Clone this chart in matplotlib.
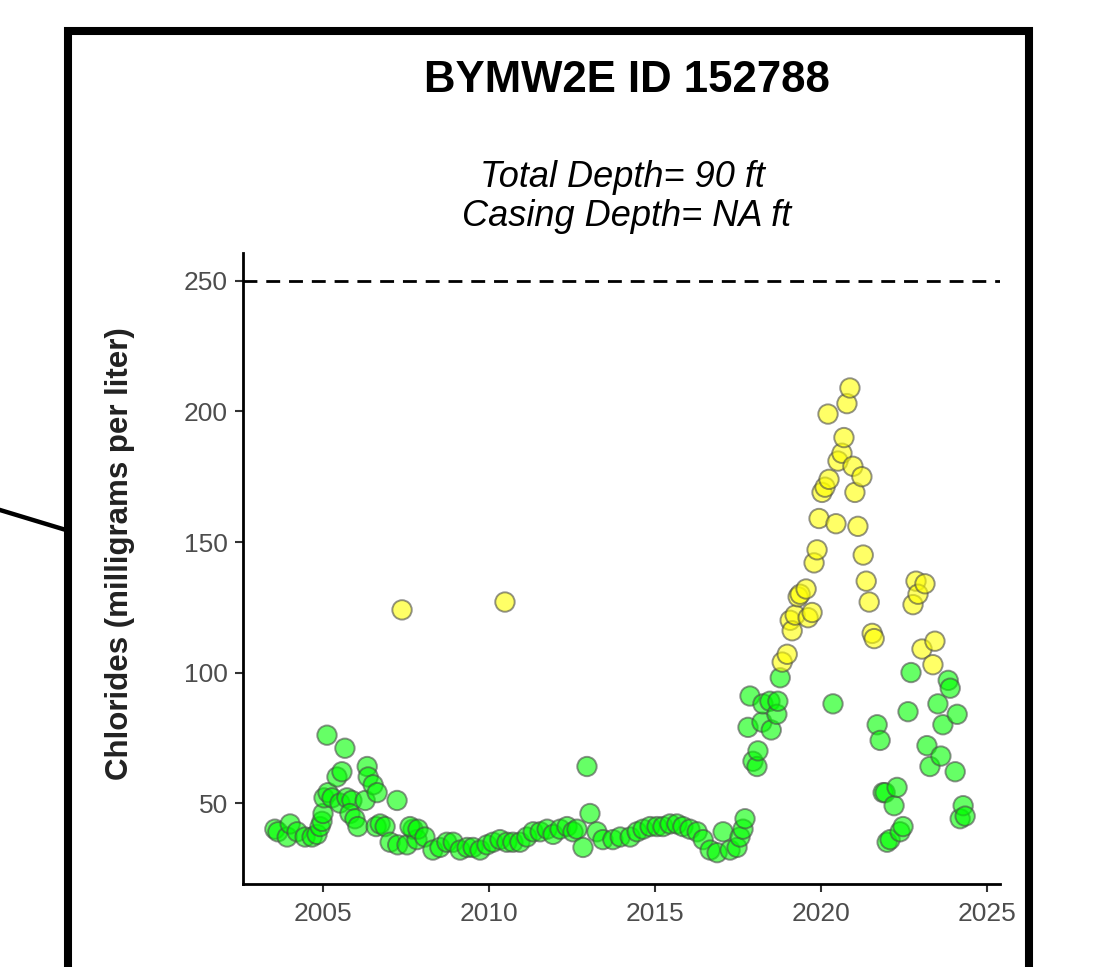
import numpy as np
import matplotlib
matplotlib.use("Agg")
from matplotlib import pyplot as plt
from matplotlib import patches, lines

plt.rcParams['font.family'] = ['Liberation Sans', 'DejaVu Sans']

title = "BYMW2E ID 152788"
subtitle = "Total Depth= 90 ft\n Casing Depth= NA ft"
ylabel = "Chlorides (milligrams per liter)"
limit = 250
threshold = 100

# sample dates (decimal years) and chloride values
years = [2003.55, 2003.64, 2003.92, 2004.01, 2004.22, 2004.46, 2004.67, 2004.82,
         2004.91, 2004.97, 2005.0, 2005.03, 2005.15, 2005.12, 2005.27, 2005.42,
         2005.57, 2005.51, 2005.66, 2005.72, 2005.87, 2005.81, 2005.96, 2006.05,
         2006.27, 2006.33, 2006.36, 2006.51, 2006.63, 2006.6, 2006.72, 2006.87,
         2007.02, 2007.23, 2007.25, 2007.38, 2007.53, 2007.71, 2007.83, 2007.62,
         2007.86, 2008.07, 2008.31, 2008.52, 2008.73, 2008.92, 2009.13, 2009.34,
         2009.52, 2009.73, 2009.94, 2010.12, 2010.33, 2010.48, 2010.54, 2010.72,
         2010.93, 2011.14, 2011.33, 2011.54, 2011.75, 2011.93, 2012.14, 2012.35,
         2012.53, 2012.65, 2012.83, 2012.95, 2013.04, 2013.25, 2013.43, 2013.73,
         2013.95, 2014.25, 2014.46, 2014.64, 2014.85, 2015.06, 2015.24, 2015.45,
         2015.66, 2015.84, 2016.05, 2016.27, 2016.45, 2016.66, 2016.87, 2017.05,
         2017.26, 2017.47, 2017.56, 2017.65, 2017.71, 2017.80, 2017.86, 2017.95,
         2018.07, 2018.10, 2018.22, 2018.25, 2018.46, 2018.5, 2018.67, 2018.70,
         2018.77, 2018.83, 2018.98, 2019.07, 2019.13, 2019.22, 2019.31, 2019.37,
         2019.55, 2019.61, 2019.73, 2019.79, 2019.88, 2019.94, 2020.03, 2020.12,
         2020.21, 2020.24, 2020.36, 2020.45, 2020.51, 2020.63, 2020.69, 2020.78,
         2020.87, 2020.96, 2021.02, 2021.11, 2021.23, 2021.27, 2021.36, 2021.45,
         2021.54, 2021.60, 2021.69, 2021.78, 2021.87, 2021.93, 2021.99, 2022.08,
         2022.20, 2022.29, 2022.38, 2022.47, 2022.62, 2022.71, 2022.77, 2022.86,
         2022.92, 2023.04, 2023.13, 2023.19, 2023.28, 2023.37, 2023.43, 2023.52,
         2023.61, 2023.67, 2023.83, 2023.89, 2024.04, 2024.10, 2024.19, 2024.28,
         2024.34]
chlorides = [40, 39, 37, 42, 39, 37, 37, 38,
             41, 43, 46, 52, 54, 76, 52, 60,
             62, 50, 71, 52, 51, 46, 44, 41,
             51, 64, 60, 57, 54, 41, 42, 41,
             35, 51, 34, 124, 34, 40, 36, 41,
             40, 37, 32, 33, 35, 35, 32, 33,
             33, 32, 34, 35, 36, 127, 35, 35,
             35, 37, 39, 39, 40, 38, 40, 41,
             39, 40, 33, 64, 46, 39, 36, 36,
             37, 37, 39, 40, 41, 41, 41, 42,
             42, 41, 40, 39, 36, 32, 31, 39,
             32, 33, 37, 40, 44, 79, 91, 66,
             64, 70, 81, 88, 89, 78, 84, 89,
             98, 104, 107, 120, 116, 122, 129, 130,
             132, 121, 123, 142, 147, 159, 169, 171,
             199, 174, 88, 157, 181, 184, 190, 203,
             209, 179, 169, 156, 175, 145, 135, 127,
             115, 113, 80, 74, 54, 54, 35, 36,
             49, 56, 39, 41, 85, 100, 126, 135,
             130, 109, 134, 72, 64, 103, 112, 88,
             68, 80, 97, 94, 62, 84, 44, 49,
             45]
xticks = [2005, 2010, 2015, 2020, 2025]
yticks = [50, 100, 150, 200, 250]

W, H = 1105, 967
fig = plt.figure(figsize=(W / 100, H / 100), dpi=100)
ax = fig.add_axes([243 / W, 1 - 884 / H, (1000 - 243) / W, (884 - 253) / H])

vals = np.array(chlorides)
cols = np.where(vals > threshold, '#ffff00', '#00ff00')
ax.scatter(years, chlorides, s=195, c=cols, alpha=0.6,
           edgecolors='#4a4a4a', linewidths=1.4, zorder=3)
ax.axhline(limit, color='black', lw=2.0, ls=(0, (5, 3.2)), zorder=2)

ax.set_xlim(2002.59, 2025.39)
ax.set_ylim(19, 260.7)
ax.set_xticks(xticks)
ax.set_yticks(yticks)
for s in ['top', 'right']:
    ax.spines[s].set_visible(False)
for s in ['left', 'bottom']:
    ax.spines[s].set_linewidth(2.0)
    ax.spines[s].set_color('black')
ax.tick_params(length=6, width=1.5, color='#333333', labelcolor='#4d4d4d',
               labelsize=19)
ax.tick_params(axis='x', pad=7)
ax.tick_params(axis='y', pad=5)

fig.text(627 / W, 1 - 80 / H, title, ha='center', va='center',
         fontsize=31.5, fontweight='bold')
fig.text(622 / W, 1 - 197 / H, subtitle, ha='center', va='center',
         fontsize=26, style='italic', linespacing=1.12)
fig.text(120 / W, 1 - 554 / H, ylabel, ha='center', va='center',
         rotation=90, fontsize=22.5, fontweight='bold', color='#222222')

# thick frame around the panel and the connector line on the left
frame = patches.Rectangle((68 / W, 1 - 1100 / H), (1029 - 68) / W, (1100 - 31) / H,
                          transform=fig.transFigure, fill=False, edgecolor='black',
                          linewidth=5.8, clip_on=False)
fig.add_artist(frame)
fig.add_artist(lines.Line2D([0, 66 / W], [1 - 510 / H, 1 - 530 / H],
                            transform=fig.transFigure, color='black', lw=3.2))

plt.savefig("out.png", dpi=100)
